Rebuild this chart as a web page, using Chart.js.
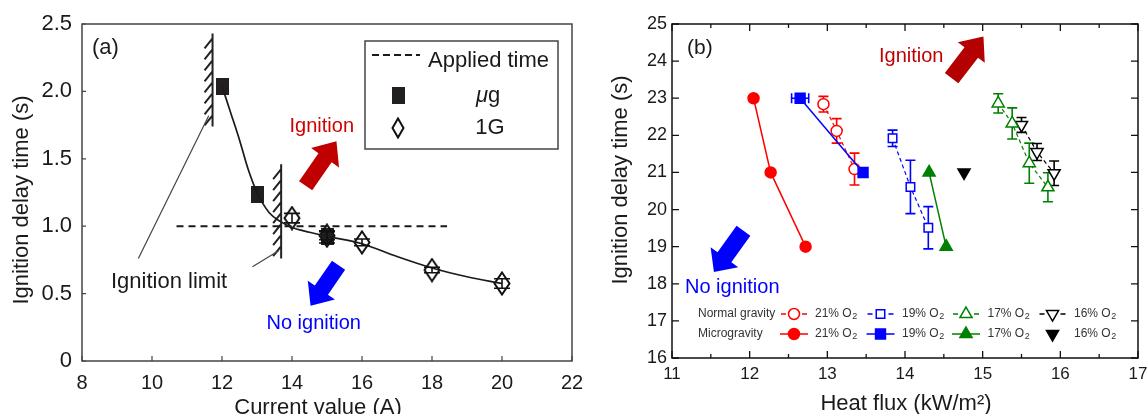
<!DOCTYPE html>
<html>
<head>
<meta charset="utf-8">
<script src="https://cdn.jsdelivr.net/npm/chart.js@4.4.0/dist/chart.umd.min.js"></script>
<style>
  body { margin: 0; background: #fff; width: 1148px; height: 414px; overflow: hidden; position: relative; }
  #ca { position: absolute; left: 0; top: 0; }
  #cb { position: absolute; left: 580px; top: 0; }
</style>
</head>
<body>
<canvas id="ca" width="600" height="414"></canvas>
<canvas id="cb" width="568" height="414"></canvas>
<script>
// ---- panel (a): ignition delay vs current ----
const currentMu = [12, 13, 15];
const delayMu = [2.04, 1.235, 0.92];
const errMu = [0, 0, 0.045];
const current1G = [14, 15, 16, 18, 20];
const delay1G = [1.06, 0.93, 0.88, 0.675, 0.575];
const err1G = [0.035, 0.03, 0.025, 0.02, 0.035];
// fitted curve
const fitX = [12, 12.25, 12.5, 12.75, 13, 13.35, 13.7, 14, 14.5, 15, 16, 17, 18, 19, 20];
const fitY = [2.04, 1.84, 1.64, 1.42, 1.25, 1.1, 1.03, 0.99, 0.955, 0.925, 0.87, 0.775, 0.69, 0.625, 0.575];
const appliedX = [10.7, 18.43];
const appliedY = [1.0, 1.0];
const xTicksA = [8, 10, 12, 14, 16, 18, 20, 22];
const yTicksA = [0, 0.5, 1.0, 1.5, 2.0, 2.5];

// ---- panel (b): ignition delay vs heat flux ----
const o2Levels = ['21%', '19%', '17%', '16%'];
const hfN21 = [12.95, 13.12, 13.35];
const tN21 = [22.84, 22.12, 21.09];
const eN21 = [0.21, 0.33, 0.43];
const hfN19 = [13.84, 14.07, 14.30];
const tN19 = [21.92, 20.61, 19.51];
const eN19 = [0.22, 0.72, 0.57];
const hfN17 = [15.20, 15.38, 15.60, 15.84];
const tN17 = [22.86, 22.32, 21.25, 20.60];
const eN17 = [0.26, 0.42, 0.54, 0.39];
const hfN16 = [15.50, 15.70, 15.92];
const tN16 = [22.28, 21.55, 20.98];
const eN16 = [0.20, 0.23, 0.33];
const hfM21 = [12.05, 12.27, 12.72];
const tM21 = [23, 21, 19];
const hfM19 = [12.65, 13.46];
const tM19 = [23, 21];
const xeM19 = [0.11, 0];
const hfM17 = [14.31, 14.53];
const tM17 = [21, 19];
const hfM16 = [14.76];
const tM16 = [21];
const xTicksB = [11, 12, 13, 14, 15, 16, 17];
const yTicksB = [16, 17, 18, 19, 20, 21, 22, 23, 24, 25];

const FONT = "'Liberation Sans', Arial, sans-serif";
Chart.defaults.font.family = FONT;
Chart.defaults.color = '#1a1a1a';

const pts = (xs, ys) => xs.map((x, i) => ({ x: x, y: ys[i] }));

// no extra room for overhanging end labels, the plot box is fixed
const noPad = s => { s.paddingLeft = 0; s.paddingRight = 0; s.paddingTop = 0; s.paddingBottom = 0; };

function markerCanvas(w, h, draw) {
  const c = document.createElement('canvas');
  c.width = w; c.height = h;
  draw(c.getContext('2d'), w, h);
  return c;
}
const sqMark = markerCanvas(13, 17, (g, w, h) => { g.fillStyle = '#231f20'; g.fillRect(0, 0, w, h); });
function diamond(w, h) {
  return markerCanvas(w, h, (g) => {
    g.strokeStyle = '#111'; g.lineWidth = 2;
    g.beginPath();
    g.moveTo(w / 2, 1.5); g.lineTo(w - 1.5, h / 2); g.lineTo(w / 2, h - 1.5); g.lineTo(1.5, h / 2);
    g.closePath(); g.stroke();
  });
}
const diaMark = diamond(18, 25);
const diaLegend = diamond(14, 22);

function fatArrow(ctx, x1, y1, x2, y2, bw, hw, hl, color) {
  const dx = x2 - x1, dy = y2 - y1, L = Math.hypot(dx, dy);
  const ux = dx / L, uy = dy / L, nx = -uy, ny = ux;
  const bx = x2 - ux * hl, by = y2 - uy * hl;
  ctx.beginPath();
  ctx.moveTo(x1 + nx * bw / 2, y1 + ny * bw / 2);
  ctx.lineTo(bx + nx * bw / 2, by + ny * bw / 2);
  ctx.lineTo(bx + nx * hw / 2, by + ny * hw / 2);
  ctx.lineTo(x2, y2);
  ctx.lineTo(bx - nx * hw / 2, by - ny * hw / 2);
  ctx.lineTo(bx - nx * bw / 2, by - ny * bw / 2);
  ctx.lineTo(x1 - nx * bw / 2, y1 - ny * bw / 2);
  ctx.closePath();
  ctx.fillStyle = color;
  ctx.fill();
}

function hatch(ctx, x, yTop, yBot) {
  ctx.save();
  ctx.strokeStyle = '#222';
  ctx.lineWidth = 2;
  ctx.beginPath();
  ctx.moveTo(x, yTop); ctx.lineTo(x, yBot);
  for (let y = yTop + 5; y < yBot - 8; y += 11) {
    ctx.moveTo(x, y);
    ctx.lineTo(x - 8, y + 10);
  }
  ctx.stroke();
  ctx.restore();
}

function text(ctx, s, x, y, size, color, align, base, style) {
  ctx.font = (style ? style + ' ' : '') + size + 'px ' + FONT;
  ctx.fillStyle = color;
  ctx.textAlign = align || 'left';
  ctx.textBaseline = base || 'middle';
  ctx.fillText(s, x, y);
}

const panelA = {
  id: 'panelA',
  beforeDatasetsDraw(chart) {
    const { ctx, scales: { x, y } } = chart;
    hatch(ctx, x.getPixelForValue(11.73), y.getPixelForValue(2.43), y.getPixelForValue(1.74));
    hatch(ctx, x.getPixelForValue(13.69), y.getPixelForValue(1.46), y.getPixelForValue(0.76));
    // leader lines to "Ignition limit"
    ctx.save();
    ctx.strokeStyle = '#444';
    ctx.lineWidth = 1.2;
    ctx.beginPath();
    ctx.moveTo(x.getPixelForValue(9.61), y.getPixelForValue(0.76));
    ctx.lineTo(x.getPixelForValue(11.62), y.getPixelForValue(1.82));
    ctx.moveTo(x.getPixelForValue(12.87), y.getPixelForValue(0.70));
    ctx.lineTo(x.getPixelForValue(13.63), y.getPixelForValue(0.82));
    ctx.stroke();
    ctx.restore();
  },
  afterDatasetsDraw(chart) {
    const { ctx, chartArea: a, scales: { x, y } } = chart;
    ctx.save();
    // error bars
    ctx.strokeStyle = '#111';
    ctx.lineWidth = 1.6;
    chart.data.datasets.forEach(ds => {
      if (!ds.errY) return;
      ds.data.forEach((p, i) => {
        const e = ds.errY[i];
        if (!e) return;
        const px = x.getPixelForValue(p.x);
        const y1 = y.getPixelForValue(p.y + e), y2 = y.getPixelForValue(p.y - e);
        ctx.beginPath();
        ctx.moveTo(px, y1); ctx.lineTo(px, y2);
        ctx.moveTo(px - 8, y1); ctx.lineTo(px + 8, y1);
        ctx.moveTo(px - 8, y2); ctx.lineTo(px + 8, y2);
        ctx.stroke();
      });
    });
    // arrows
    fatArrow(ctx, x.getPixelForValue(14.39), y.getPixelForValue(1.30), x.getPixelForValue(15.27), y.getPixelForValue(1.63), 16, 34, 20, '#c00000');
    fatArrow(ctx, x.getPixelForValue(15.33), y.getPixelForValue(0.71), x.getPixelForValue(14.53), y.getPixelForValue(0.41), 16, 33, 19, '#0000ff');
    text(ctx, 'Ignition', x.getPixelForValue(13.93), y.getPixelForValue(1.74), 20, '#d00000');
    text(ctx, 'No ignition', x.getPixelForValue(13.27), y.getPixelForValue(0.28), 20, '#0000ff');
    text(ctx, 'Ignition limit', 111, 282, 22, '#1a1a1a');
    text(ctx, '(a)', 92, 48, 22, '#1a1a1a');
    // legend
    ctx.strokeStyle = '#444';
    ctx.lineWidth = 1.5;
    ctx.strokeRect(365, 41, 193, 108);
    ctx.strokeStyle = '#1a1a1a';
    ctx.lineWidth = 2;
    ctx.setLineDash([7, 4]);
    ctx.beginPath(); ctx.moveTo(372, 55); ctx.lineTo(420, 55); ctx.stroke();
    ctx.setLineDash([]);
    text(ctx, 'Applied time', 428, 61, 22, '#1a1a1a');
    ctx.drawImage(sqMark, 398 - 6.5, 95 - 8.5);
    ctx.drawImage(diaLegend, 398 - 7, 128 - 11);
    text(ctx, 'μ', 476, 96, 22, '#1a1a1a', 'left', 'middle', 'italic');
    const mw = ctx.measureText('μ').width;
    text(ctx, 'g', 476 + mw, 96, 22, '#1a1a1a');
    text(ctx, '1G', 490, 128, 22, '#1a1a1a', 'center');
    // frame and inward ticks
    ctx.strokeStyle = '#444';
    ctx.lineWidth = 1.5;
    ctx.strokeRect(a.left, a.top, a.right - a.left, a.bottom - a.top);
    ctx.lineWidth = 1.2;
    ctx.beginPath();
    xTicksA.forEach(v => { const p = x.getPixelForValue(v); ctx.moveTo(p, a.bottom); ctx.lineTo(p, a.bottom - 5); });
    yTicksA.forEach(v => { const p = y.getPixelForValue(v); ctx.moveTo(a.left, p); ctx.lineTo(a.left + 4, p); });
    ctx.stroke();
    // axis titles
    text(ctx, 'Current value (A)', 318, 414, 22, '#1a1a1a', 'center', 'alphabetic');
    ctx.translate(22, 200);
    ctx.rotate(-Math.PI / 2);
    text(ctx, 'Ignition delay time (s)', 0, 0, 22, '#1a1a1a', 'center');
    ctx.restore();
  }
};

new Chart(document.getElementById('ca'), {
  type: 'scatter',
  data: {
    datasets: [
      { type: 'line', label: 'fit', data: pts(fitX, fitY), borderColor: '#1a1a1a', borderWidth: 1.7, pointRadius: 0, cubicInterpolationMode: 'monotone', fill: false },
      { type: 'line', label: 'Applied time', data: pts(appliedX, appliedY), borderColor: '#1a1a1a', borderWidth: 2, borderDash: [7, 5], pointRadius: 0, fill: false },
      { label: '1G', data: pts(current1G, delay1G), pointStyle: diaMark, pointRadius: 8, errY: err1G },
      { label: 'μg', data: pts(currentMu, delayMu), pointStyle: sqMark, pointRadius: 8, errY: errMu }
    ]
  },
  options: {
    responsive: false,
    animation: false,
    events: [],
    layout: { padding: { top: 24, right: 28, left: 0, bottom: 0 } },
    plugins: { legend: { display: false }, tooltip: { enabled: false } },
    scales: {
      x: {
        type: 'linear', min: 8, max: 22,
        afterBuildTicks: s => { s.ticks = xTicksA.map(v => ({ value: v })); },
        afterFit: s => { s.height = 53; noPad(s); },
        grid: { display: false, drawTicks: false },
        border: { display: false },
        ticks: { font: { size: 20 }, color: '#1a1a1a', padding: 10, maxRotation: 0 }
      },
      y: {
        type: 'linear', min: 0, max: 2.5,
        afterBuildTicks: s => { s.ticks = yTicksA.map(v => ({ value: v })); },
        afterFit: s => { s.width = 82; noPad(s); },
        grid: { display: false, drawTicks: false },
        border: { display: false },
        ticks: { font: { size: 22 }, color: '#1a1a1a', padding: 10, callback: v => v === 0 ? '0' : v.toFixed(1) }
      }
    }
  },
  plugins: [panelA]
});

// ---- panel (b) ----
function drawMark(ctx, kind, x, y, r, color, filled) {
  ctx.beginPath();
  if (kind === 'circle') ctx.arc(x, y, r, 0, Math.PI * 2);
  else if (kind === 'rect') { const s = r * Math.SQRT1_2; ctx.rect(x - s, y - s, 2 * s, 2 * s); }
  else {
    const dir = kind === 'tri' ? 1 : -1;
    const w = r * Math.sqrt(3) / 2;
    ctx.moveTo(x, y - dir * r);
    ctx.lineTo(x + w, y + dir * r / 2);
    ctx.lineTo(x - w, y + dir * r / 2);
    ctx.closePath();
  }
  ctx.fillStyle = filled ? color : '#fff';
  ctx.fill();
  ctx.strokeStyle = color;
  ctx.lineWidth = 1.5;
  ctx.stroke();
}

function seriesB(label, xs, ys, color, style, rot, r, normal, errs, xerrs, noLine) {
  return {
    label: label,
    data: pts(xs, ys),
    showLine: !noLine,
    borderColor: color,
    borderWidth: normal ? 1.2 : 1.5,
    borderDash: normal ? [4, 3] : [],
    pointStyle: style,
    rotation: rot,
    pointRadius: r,
    pointBorderColor: color,
    pointBackgroundColor: normal ? '#fff' : color,
    pointBorderWidth: 1.5,
    errY: errs,
    errX: xerrs,
    errColor: color
  };
}

const legendCols = [794, 880.5, 966, 1052.5];
const legendText = [815, 902, 987.5, 1074];
const legendKinds = ['circle', 'rect', 'tri', 'down'];
const legendColors = ['#ff0000', '#0000ff', '#008000', '#000000'];

const panelB = {
  id: 'panelB',
  beforeDatasetsDraw(chart) {
    const { ctx, scales: { x, y } } = chart;
    ctx.save();
    ctx.lineWidth = 1.6;
    chart.data.datasets.forEach(ds => {
      ctx.strokeStyle = ds.errColor;
      ds.data.forEach((p, i) => {
        const px = x.getPixelForValue(p.x), py = y.getPixelForValue(p.y);
        ctx.beginPath();
        if (ds.errY && ds.errY[i]) {
          const y1 = y.getPixelForValue(p.y + ds.errY[i]), y2 = y.getPixelForValue(p.y - ds.errY[i]);
          ctx.moveTo(px, y1); ctx.lineTo(px, y2);
          ctx.moveTo(px - 5, y1); ctx.lineTo(px + 5, y1);
          ctx.moveTo(px - 5, y2); ctx.lineTo(px + 5, y2);
        }
        if (ds.errX && ds.errX[i]) {
          const x1 = x.getPixelForValue(p.x - ds.errX[i]), x2 = x.getPixelForValue(p.x + ds.errX[i]);
          ctx.moveTo(x1, py); ctx.lineTo(x2, py);
          ctx.moveTo(x1, py - 5); ctx.lineTo(x1, py + 5);
          ctx.moveTo(x2, py - 5); ctx.lineTo(x2, py + 5);
        }
        ctx.stroke();
      });
    });
    ctx.restore();
  },
  afterDatasetsDraw(chart) {
    const { ctx, chartArea: a, scales: { x, y } } = chart;
    const off = 580;
    ctx.save();
    fatArrow(ctx, x.getPixelForValue(14.60), y.getPixelForValue(23.54), x.getPixelForValue(15.01), y.getPixelForValue(24.66), 17, 34, 20, '#b40000');
    fatArrow(ctx, x.getPixelForValue(11.92), y.getPixelForValue(19.43), x.getPixelForValue(11.54), y.getPixelForValue(18.32), 17, 34, 18, '#0000ff');
    text(ctx, 'Ignition', 879 - off, 56, 20, '#c00000');
    text(ctx, 'No ignition', 685 - off, 287, 20, '#0000ff');
    text(ctx, '(b)', 687 - off, 48, 21, '#1a1a1a');
    // legend
    const rows = [314, 334];
    text(ctx, 'Normal gravity', 698 - off, rows[0], 12, '#333');
    text(ctx, 'Microgravity', 698 - off, rows[1], 12, '#333');
    legendCols.forEach((cx, i) => {
      const c = legendColors[i];
      const mx = cx - off;
      ctx.strokeStyle = c;
      ctx.lineWidth = 1.5;
      ctx.beginPath();
      ctx.moveTo(mx - 13, rows[0]); ctx.lineTo(mx - 8, rows[0]);
      ctx.moveTo(mx + 8, rows[0]); ctx.lineTo(mx + 13, rows[0]);
      if (i < 3) { ctx.moveTo(mx - 14, rows[1]); ctx.lineTo(mx + 14, rows[1]); }
      ctx.stroke();
      const r = legendKinds[i] === 'circle' ? 5.5 : 7;
      drawMark(ctx, legendKinds[i], mx, rows[0], legendKinds[i] === 'rect' ? 6 : r, c, false);
      drawMark(ctx, legendKinds[i], mx, rows[1], r, c, true);
      rows.forEach(ry => {
        text(ctx, o2Levels[i] + ' O', legendText[i] - off, ry, 12, '#333');
        const w = ctx.measureText(o2Levels[i] + ' O').width;
        text(ctx, '2', legendText[i] - off + w + 0.5, ry + 3, 9, '#333');
      });
    });
    // frame and inward ticks
    ctx.strokeStyle = '#111';
    ctx.lineWidth = 1.5;
    ctx.strokeRect(a.left, a.top, a.right - a.left, a.bottom - a.top);
    ctx.lineWidth = 1.3;
    ctx.beginPath();
    xTicksB.forEach(v => {
      const p = x.getPixelForValue(v);
      ctx.moveTo(p, a.bottom); ctx.lineTo(p, a.bottom - 7);
      ctx.moveTo(p, a.top); ctx.lineTo(p, a.top + 7);
      if (v < 17) {
        const h = x.getPixelForValue(v + 0.5);
        ctx.moveTo(h, a.bottom); ctx.lineTo(h, a.bottom - 4);
        ctx.moveTo(h, a.top); ctx.lineTo(h, a.top + 4);
      }
    });
    yTicksB.forEach(v => {
      const p = y.getPixelForValue(v);
      ctx.moveTo(a.left, p); ctx.lineTo(a.left + 7, p);
      ctx.moveTo(a.right, p); ctx.lineTo(a.right - 7, p);
    });
    ctx.stroke();
    // axis titles
    text(ctx, 'Heat flux (kW/m²)', 906 - off, 410, 22, '#1a1a1a', 'center', 'alphabetic');
    ctx.translate(621 - off, 180);
    ctx.rotate(-Math.PI / 2);
    text(ctx, 'Ignition delay time (s)', 0, 0, 22, '#1a1a1a', 'center');
    ctx.restore();
  }
};

new Chart(document.getElementById('cb'), {
  type: 'scatter',
  data: {
    datasets: [
      seriesB('Microgravity 21% O2', hfM21, tM21, '#ff0000', 'circle', 0, 5.5, false),
      seriesB('Microgravity 19% O2', hfM19, tM19, '#0000ff', 'rect', 0, 7, false, null, xeM19),
      seriesB('Microgravity 17% O2', hfM17, tM17, '#008000', 'triangle', 0, 7, false),
      seriesB('Microgravity 16% O2', hfM16, tM16, '#000000', 'triangle', 180, 7, false, null, null, true),
      seriesB('Normal gravity 21% O2', hfN21, tN21, '#ff0000', 'circle', 0, 5.5, true, eN21),
      seriesB('Normal gravity 19% O2', hfN19, tN19, '#0000ff', 'rect', 0, 6, true, eN19),
      seriesB('Normal gravity 17% O2', hfN17, tN17, '#008000', 'triangle', 0, 7, true, eN17),
      seriesB('Normal gravity 16% O2', hfN16, tN16, '#000000', 'triangle', 180, 7, true, eN16)
    ]
  },
  options: {
    responsive: false,
    animation: false,
    events: [],
    layout: { padding: { top: 24, right: 10, left: 0, bottom: 0 } },
    plugins: { legend: { display: false }, tooltip: { enabled: false } },
    scales: {
      x: {
        type: 'linear', min: 11, max: 17,
        afterBuildTicks: s => { s.ticks = xTicksB.map(v => ({ value: v })); },
        afterFit: s => { s.height = 56; noPad(s); },
        grid: { display: false, drawTicks: false },
        border: { display: false },
        ticks: { font: { size: 17 }, color: '#1a1a1a', padding: 6, maxRotation: 0 }
      },
      y: {
        type: 'linear', min: 16, max: 25,
        afterBuildTicks: s => { s.ticks = yTicksB.map(v => ({ value: v })); },
        afterFit: s => { s.width = 92; noPad(s); },
        grid: { display: false, drawTicks: false },
        border: { display: false },
        ticks: { font: { size: 18 }, color: '#1a1a1a', padding: 5 }
      }
    }
  },
  plugins: [panelB]
});
</script>
</body>
</html>
